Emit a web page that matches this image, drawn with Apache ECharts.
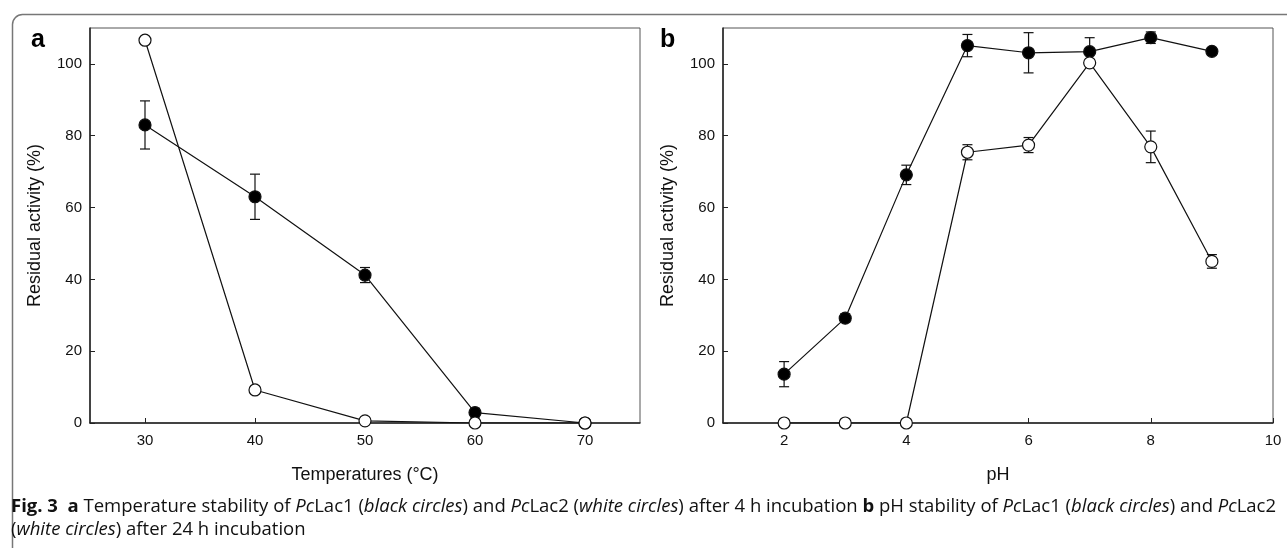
<!DOCTYPE html>
<html>
<head>
<meta charset="utf-8">
<script src="https://cdn.jsdelivr.net/npm/echarts@6/dist/echarts.min.js"></script>
<style>
  html, body { margin: 0; padding: 0; background: #fff; }
  #chart { width: 1287px; height: 548px; }
</style>
</head>
<body>
<div id="chart"></div>
<script>
// panel a: temperature stability (4 h)
var tempX = [30, 40, 50, 60, 70];
var tempLac1 = [83.0, 63.0, 41.2, 2.9, 0];
var tempLac1Err = [6.7, 6.3, 2.1, 1.2, 0];
var tempLac2 = [106.6, 9.2, 0.6, 0, 0];
var tempLac2Err = [0, 0, 0, 0, 0];
var tempTicks = [30, 40, 50, 60, 70];

// panel b: pH stability (24 h)
var phX = [2, 3, 4, 5, 6, 7, 8, 9];
var phLac1 = [13.6, 29.2, 69.1, 105.1, 103.1, 103.4, 107.3, 103.5];
var phLac1Err = [3.5, 1.2, 2.7, 3.1, 5.6, 3.9, 1.6, 1.0];
var phLac2 = [0, 0, 0, 75.4, 77.4, 100.3, 76.9, 45.0];
var phLac2Err = [0, 0, 0, 2.1, 2.1, 0.8, 4.4, 1.9];
var phTicks = [2, 4, 6, 8, 10];

var yTicks = [0, 20, 40, 60, 80, 100];

function pairs(xs, ys) {
	return xs.map(function (x, i) { return [x, ys[i]]; });
}
function errData(xs, ys, es) {
	var out = [];
	xs.forEach(function (x, i) {
		if (es[i] > 0) out.push([x, ys[i] - es[i], ys[i] + es[i]]);
	});
	return out;
}

function renderErr(params, api) {
	var lo = api.coord([api.value(0), api.value(1)]);
	var hi = api.coord([api.value(0), api.value(2)]);
	var w = 5;
	var st = { stroke: '#111', lineWidth: 1.2 };
	return {
		type: 'group',
		children: [
			{ type: 'line', shape: { x1: lo[0], y1: lo[1], x2: hi[0], y2: hi[1] }, style: st },
			{ type: 'line', shape: { x1: lo[0] - w, y1: lo[1], x2: lo[0] + w, y2: lo[1] }, style: st },
			{ type: 'line', shape: { x1: hi[0] - w, y1: hi[1], x2: hi[0] + w, y2: hi[1] }, style: st }
		]
	};
}

var axisFont = 'Liberation Sans, Arial, sans-serif';

function xAxisOf(idx, min, max, ticks, name) {
	return {
		type: 'value', gridIndex: idx, min: min, max: max,
		name: name, nameLocation: 'middle', nameGap: 43,
		nameTextStyle: { fontFamily: axisFont, fontSize: 18, color: '#111' },
		axisLine: { lineStyle: { color: '#222', width: 1.5 } },
		axisTick: { inside: true, length: 5, customValues: ticks, lineStyle: { color: '#222' } },
		axisLabel: { customValues: ticks, margin: 10, fontFamily: axisFont, fontSize: 15, color: '#111' },
		splitLine: { show: false }
	};
}
function yAxisOf(idx) {
	return {
		type: 'value', gridIndex: idx, min: 0, max: 110,
		name: 'Residual activity (%)', nameLocation: 'middle', nameGap: 46, nameRotate: 90,
		nameTextStyle: { fontFamily: axisFont, fontSize: 18, color: '#111' },
		axisLine: { show: true, lineStyle: { color: '#222', width: 1.5 } },
		axisTick: { inside: true, length: 5, customValues: yTicks, lineStyle: { color: '#222' } },
		axisLabel: { customValues: yTicks, margin: 8, fontFamily: axisFont, fontSize: 15, color: '#111' },
		splitLine: { show: false }
	};
}

function lineSeries(idx, data, fill) {
	return {
		type: 'line', xAxisIndex: idx, yAxisIndex: idx,
		data: data, symbol: 'circle', symbolSize: 12,
		itemStyle: { color: fill, borderColor: '#111', borderWidth: 1.2 },
		lineStyle: { color: '#111', width: 1.2 },
		z: fill === '#fff' ? 4 : 3,
		animation: false
	};
}
function errSeries(idx, data) {
	return {
		type: 'custom', xAxisIndex: idx, yAxisIndex: idx,
		data: data, renderItem: renderErr, z: 2, animation: false
	};
}

var capRich = {
	b: { fontWeight: 'bold', fontFamily: 'Open Sans', fontSize: 18, fill: '#111' },
	i: { fontStyle: 'italic', fontFamily: 'Open Sans', fontSize: 18, fill: '#111' }
};

var myChart = echarts.init(document.getElementById('chart'));

var option = {
	backgroundColor: '#fff',
	animation: false,
	grid: [
		{ left: 90, right: 647, top: 28, bottom: 125, show: true, borderColor: '#555', borderWidth: 1 },
		{ left: 723, right: 14, top: 28, bottom: 125, show: true, borderColor: '#555', borderWidth: 1 }
	],
	xAxis: [
		xAxisOf(0, 25, 75, tempTicks, 'Temperatures (°C)'),
		xAxisOf(1, 1, 10, phTicks, 'pH')
	],
	yAxis: [yAxisOf(0), yAxisOf(1)],
	series: [
		errSeries(0, errData(tempX, tempLac1, tempLac1Err)),
		errSeries(0, errData(tempX, tempLac2, tempLac2Err)),
		lineSeries(0, pairs(tempX, tempLac1), '#000'),
		lineSeries(0, pairs(tempX, tempLac2), '#fff'),
		errSeries(1, errData(phX, phLac1, phLac1Err)),
		errSeries(1, errData(phX, phLac2, phLac2Err)),
		lineSeries(1, pairs(phX, phLac1), '#000'),
		lineSeries(1, pairs(phX, phLac2), '#fff')
	],
	graphic: [
		{
			type: 'rect', left: 10, top: 12, z: 0,
			shape: { width: 1320, height: 600, r: 10 },
			style: { fill: 'none', stroke: '#777', lineWidth: 1.5 }
		},
		{
			type: 'text', left: 31, top: 28,
			style: { text: 'a', font: 'bold 25px Liberation Sans, Arial, sans-serif', fill: '#000' }
		},
		{
			type: 'text', left: 660, top: 28,
			style: { text: 'b', font: 'bold 25px Liberation Sans, Arial, sans-serif', fill: '#000' }
		},
		{
			type: 'text', left: 11, top: 498, scaleX: 1.028,
			style: {
				text: '{b|Fig. 3}  {b|a} Temperature stability of {i|Pc}Lac1 ({i|black circles}) and {i|Pc}Lac2 ({i|white circles}) after 4 h incubation {b|b} pH stability of {i|Pc}Lac1 ({i|black circles}) and {i|Pc}Lac2',
				fontFamily: 'Open Sans', fontSize: 18, fill: '#111',
				rich: capRich
			}
		},
		{
			type: 'text', left: 11, top: 521, scaleX: 1.028,
			style: {
				text: '({i|white circles}) after 24 h incubation',
				fontFamily: 'Open Sans', fontSize: 18, fill: '#111',
				rich: capRich
			}
		}
	]
};

myChart.setOption(option);
</script>
</body>
</html>
